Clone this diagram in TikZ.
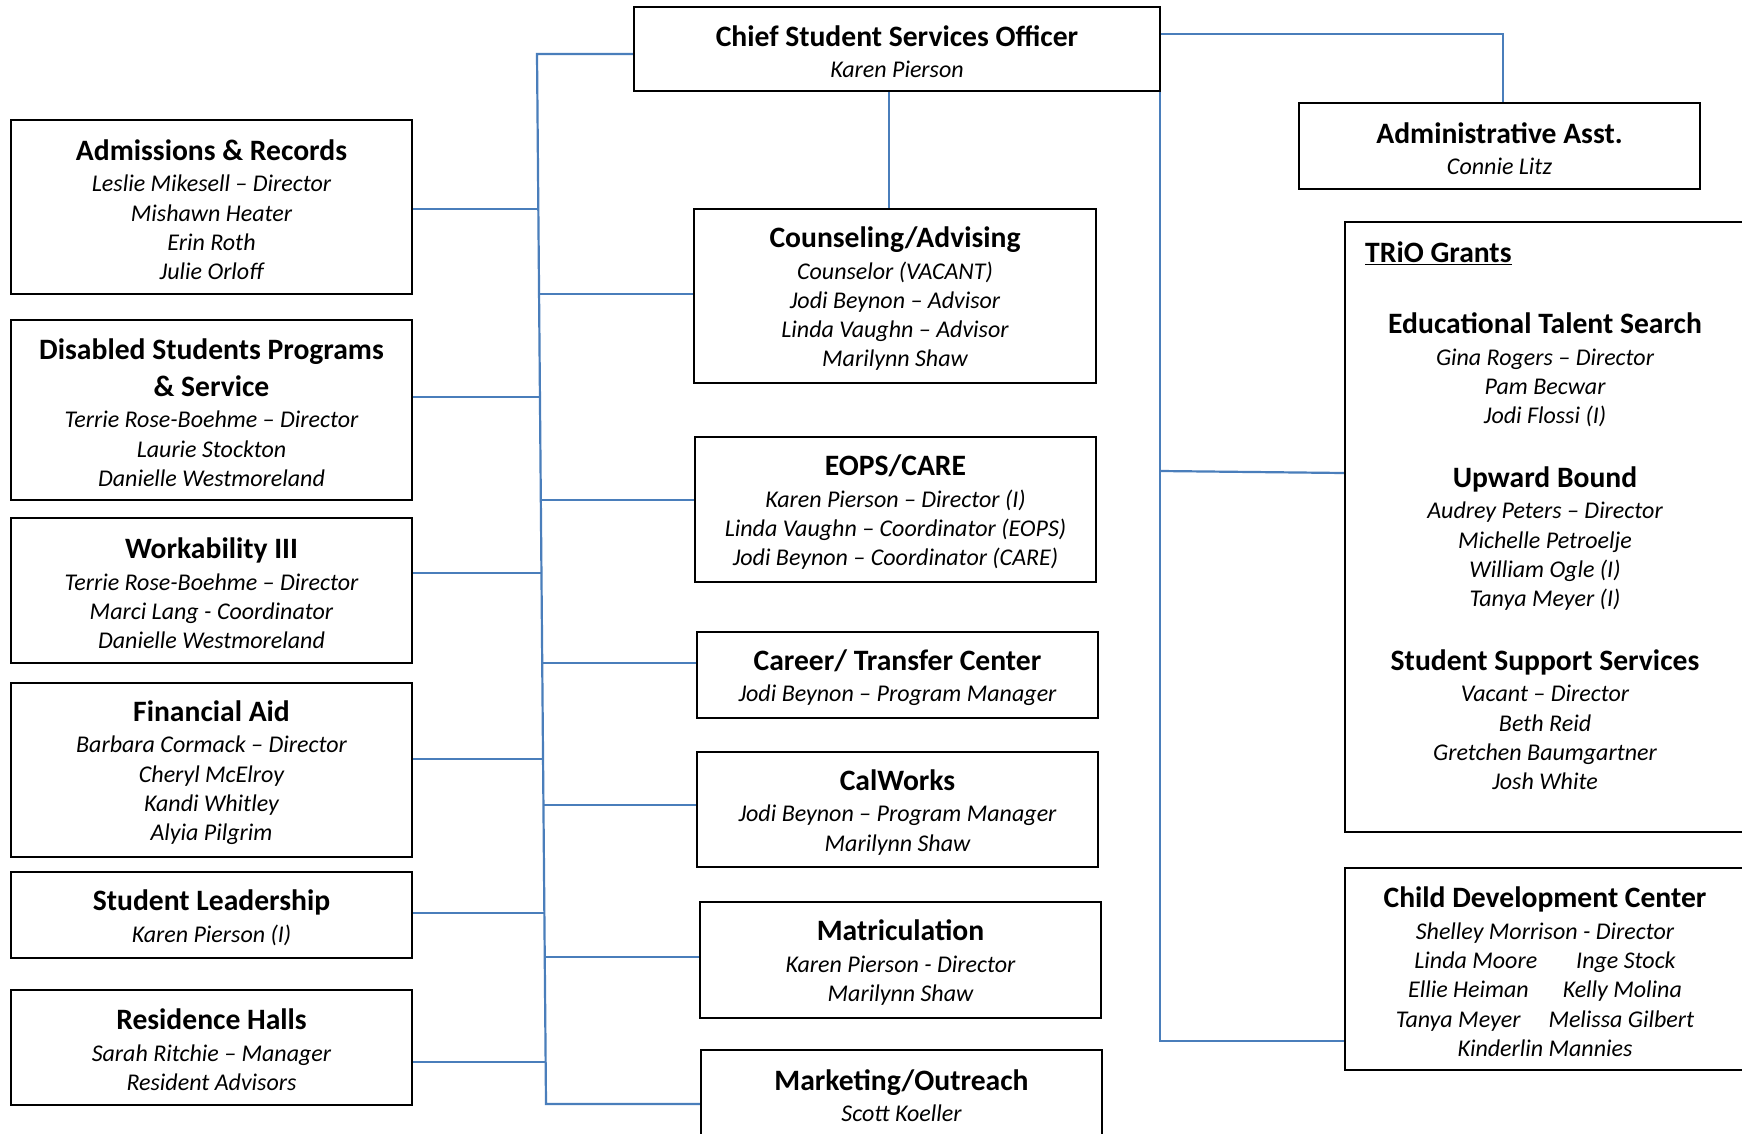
\documentclass[tikz,border=0pt]{standalone}
\usepackage{fontspec}
\setmainfont{Carlito}
\definecolor{connblue}{HTML}{4A7EBB}
\tikzset{
  box/.style={draw=black, line width=2.4pt, inner sep=0pt, align=center,
    font=\fontsize{24}{29.3}\selectfont\itshape},
  bodytext/.style={inner sep=0pt, align=center, font=\fontsize{24}{29.3}\selectfont\itshape},
  cline/.style={draw=connblue, line width=2.2pt},
}
\newcommand{\hd}[1]{{\fontsize{29.6}{35}\selectfont\bfseries\upshape\rule{0pt}{26pt}#1}}
\newcommand{\hdplain}[1]{{\fontsize{29.6}{35}\selectfont\bfseries\upshape #1}}
\begin{document}
\begin{tikzpicture}[x=1pt,y=-1pt]
\useasboundingbox (0,0) rectangle (1742,1134);
\fill[white] (0,0) rectangle (1742,1134);

% top
\node[box, minimum width=526pt, minimum height=84pt] (chief) at (897,49)
  {\hd{Chief Student Services Officer}\\[2.5pt]Karen Pierson};
\node[box, minimum width=401pt, minimum height=86pt] (admin) at (1499.5,146)
  {\hd{Administrative Asst.}\\[2.5pt]Connie Litz};

% left column
\node[box, minimum width=401pt, minimum height=174pt] (adm) at (211.5,207)
  {\hd{Admissions \& Records}\\[2.5pt]Leslie Mikesell – Director\\Mishawn Heater\\Erin Roth\\Julie Orloff};
\node[box, minimum width=401pt, minimum height=180pt] (dis) at (211.5,410)
  {\hd{Disabled Students Programs}\\[5.5pt]\hd{\& Service}\\[1.5pt]Terrie Rose-Boehme – Director\\Laurie Stockton\\Danielle Westmoreland};
\node[box, minimum width=401pt, minimum height=145pt] (work) at (211.5,590.5)
  {\hd{Workability III}\\[2.5pt]Terrie Rose-Boehme – Director\\Marci Lang - Coordinator\\Danielle Westmoreland};
\node[box, minimum width=401pt, minimum height=174pt] (fin) at (211.5,770)
  {\hd{Financial Aid}\\[2.5pt]Barbara Cormack – Director\\Cheryl McElroy\\Kandi Whitley\\Alyia Pilgrim};
\node[box, minimum width=401pt, minimum height=86pt] (lead) at (211.5,915)
  {\hd{Student Leadership}\\[2.5pt]Karen Pierson (I)};
\node[box, minimum width=401pt, minimum height=115pt] (res) at (211.5,1047.5)
  {\hd{Residence Halls}\\[2.5pt]Sarah Ritchie – Manager\\Resident Advisors};

% centre column
\node[box, minimum width=402pt, minimum height=174pt] (couns) at (895,296)
  {\hd{Counseling/Advising}\\[2.5pt]Counselor (VACANT)\\Jodi Beynon – Advisor\\Linda Vaughn – Advisor\\Marilynn Shaw};
\node[box, minimum width=401pt, minimum height=145pt] (eops) at (895.5,509.5)
  {\hd{EOPS/CARE}\\[2.5pt]Karen Pierson – Director (I)\\Linda Vaughn – Coordinator (EOPS)\\Jodi Beynon – Coordinator (CARE)};
\node[box, minimum width=401pt, minimum height=86pt] (career) at (897.5,675)
  {\hd{Career/ Transfer Center}\\[2.5pt]Jodi Beynon – Program Manager};
\node[box, minimum width=401pt, minimum height=115pt] (calw) at (897.5,809.5)
  {\hd{CalWorks}\\[2.5pt]Jodi Beynon – Program Manager\\Marilynn Shaw};
\node[box, minimum width=401pt, minimum height=116pt] (matric) at (900.5,960)
  {\hd{Matriculation}\\[2.5pt]Karen Pierson - Director\\Marilynn Shaw};
\node[box, minimum width=401pt, minimum height=86pt] (mkt) at (901.5,1093)
  {\hd{Marketing/Outreach}\\[2.5pt]Scott Koeller};

% right column
\node[box, minimum width=400pt, minimum height=610pt] (trio) at (1545,527) {};
\node[bodytext, anchor=west] (triohd) at (1365,253)
  {\hdplain{\underline{TRiO Grants}}};
\node[bodytext, anchor=north] (triobody) at (1545,307)
  {\hd{Educational Talent Search}\\[2.5pt]Gina Rogers – Director\\Pam Becwar\\Jodi Flossi (I)\\[33.5pt]%
   \hd{Upward Bound}\\[2pt]Audrey Peters – Director\\Michelle Petroelje\\William Ogle (I)\\Tanya Meyer (I)\\[33.5pt]%
   \hd{Student Support Services}\\[1.5pt]Vacant – Director\\Beth Reid\\Gretchen Baumgartner\\Josh White};
\node[box, minimum width=400pt, minimum height=202pt] (child) at (1545,969)
  {\hd{Child Development Center}\\[2.5pt]Shelley Morrison - Director\\Linda Moore\hspace{39pt}Inge Stock\\Ellie Heiman\hspace{34pt}Kelly Molina\\Tanya Meyer\hspace{28pt}Melissa Gilbert\\Kinderlin Mannies};

% left bus coordinates
\coordinate (busTop) at (537,54);
\coordinate (busBot) at (546,1104);
\coordinate (bA) at (538.3,209);
\coordinate (bB) at (539.1,294);
\coordinate (bC) at (539.9,397);
\coordinate (bD) at (540.8,500);
\coordinate (bE) at (541.4,573);
\coordinate (bF) at (542.2,663);
\coordinate (bG) at (543.0,759);
\coordinate (bH) at (543.4,805);
\coordinate (bI) at (544.4,913);
\coordinate (bJ) at (544.7,957);
\coordinate (bK) at (545.6,1062);

\draw[cline] (chief.west |- busTop) -- (busTop) -- (busBot) -- (mkt.west |- busBot);
\draw[cline] (adm.east |- bA) -- (bA);
\draw[cline] (dis.east |- bC) -- (bC);
\draw[cline] (work.east |- bE) -- (bE);
\draw[cline] (fin.east |- bG) -- (bG);
\draw[cline] (lead.east |- bI) -- (bI);
\draw[cline] (res.east |- bK) -- (bK);
\draw[cline] (bB) -- (couns.west |- bB);
\draw[cline] (bD) -- (eops.west |- bD);
\draw[cline] (bF) -- (career.west |- bF);
\draw[cline] (bH) -- (calw.west |- bH);
\draw[cline] (bJ) -- (matric.west |- bJ);

% chief to counseling
\coordinate (cc) at (889,0);
\draw[cline] (chief.south -| cc) -- (couns.north -| cc);

% chief to admin
\coordinate (aTop) at (1503,34);
\draw[cline] (chief.east |- aTop) -- (aTop) -- (admin.north -| aTop);

% right bus
\coordinate (rTop) at (1160,92);
\coordinate (rBot) at (1160,1041);
\coordinate (rT) at (1160,471);
\coordinate (rT2) at (1345,473);
\draw[cline] (rTop) -- (rBot) -- (child.west |- rBot);
\draw[cline] (rT) -- (trio.west |- rT2);
\end{tikzpicture}
\end{document}
